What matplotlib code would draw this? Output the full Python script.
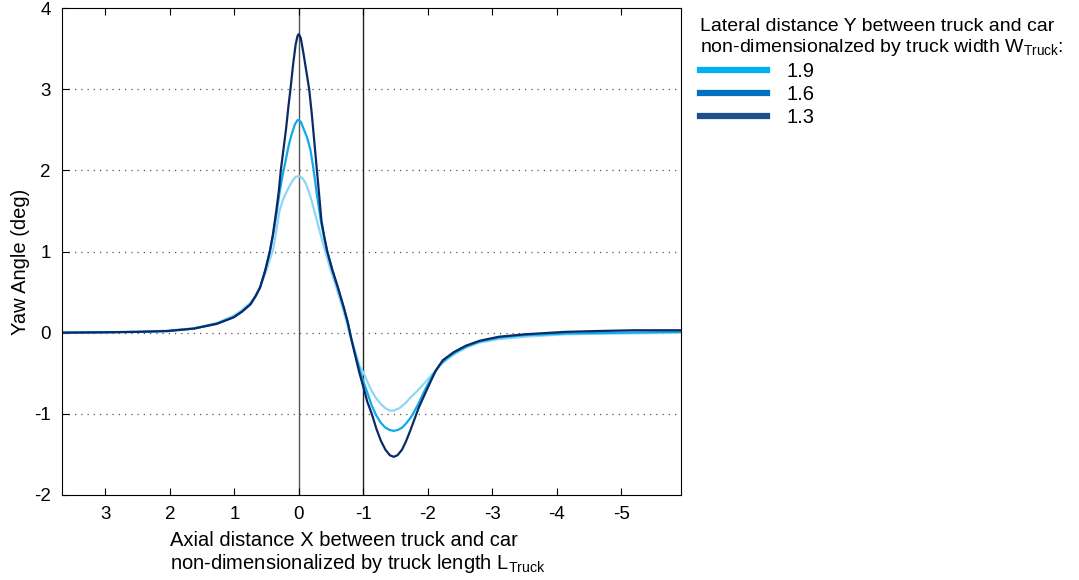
import numpy as np
import matplotlib
matplotlib.use("Agg")
from matplotlib import pyplot as plt
from matplotlib.lines import Line2D

plt.rcParams['font.family'] = ['Liberation Sans', 'DejaVu Sans']
plt.rcParams['mathtext.fontset'] = 'custom'
plt.rcParams['mathtext.rm'] = 'Liberation Sans'
plt.rcParams['axes.unicode_minus'] = False

# Y = 1.3 (dark)
x13 = [3.7, 3.0, 2.5, 2.04, 1.63, 1.27, 1.01, 0.88, 0.75, 0.67, 0.6, 0.52, 0.45, 0.4, 0.35,
       0.31, 0.28, 0.24, 0.2, 0.16, 0.13, 0.09, 0.05, 0.02, 0.0,
       -0.03, -0.07, -0.11, -0.16, -0.2, -0.24, -0.28, -0.32, -0.35, -0.39, -0.44, -0.52,
       -0.605, -0.7, -0.76, -0.81, -0.87, -0.94, -1.0, -1.06, -1.13, -1.2, -1.27, -1.34,
       -1.41, -1.47, -1.53, -1.6, -1.66, -1.73, -1.79, -1.86, -1.94, -2.02, -2.12, -2.23,
       -2.4, -2.59, -2.8, -3.1, -3.5, -4.13, -4.6, -5.2, -5.92]
y13 = [0.0, 0.005, 0.01, 0.02, 0.05, 0.11, 0.19, 0.26, 0.35, 0.45, 0.56, 0.77, 1.0, 1.22, 1.5,
       1.75, 2.0, 2.25, 2.5, 2.8, 3.0, 3.3, 3.55, 3.66, 3.68,
       3.63, 3.45, 3.25, 3.0, 2.7, 2.35, 2.0, 1.65, 1.38, 1.2, 1.0, 0.77,
       0.56, 0.3, 0.12, -0.07, -0.27, -0.5, -0.67, -0.85, -1.0, -1.18, -1.33, -1.44,
       -1.51, -1.53, -1.51, -1.44, -1.34, -1.2, -1.07, -0.92, -0.78, -0.64, -0.47, -0.34,
       -0.24, -0.16, -0.1, -0.05, -0.02, 0.01, 0.02, 0.03, 0.03]

# Y = 1.6 (middle)
x16 = [3.7, 3.0, 2.5, 2.04, 1.63, 1.27, 1.01, 0.88, 0.75, 0.67, 0.6, 0.52, 0.45, 0.4, 0.35,
       0.3, 0.25, 0.21, 0.16, 0.11, 0.06, 0.02, 0.0,
       -0.03, -0.08, -0.13, -0.18, -0.23, -0.28, -0.34, -0.39, -0.44, -0.52,
       -0.6, -0.7, -0.76, -0.81, -0.87, -0.94, -1.0, -1.07, -1.13, -1.2, -1.27, -1.34,
       -1.41, -1.47, -1.53, -1.6, -1.66, -1.72, -1.77, -1.85, -1.97, -2.08, -2.18, -2.3,
       -2.45, -2.6, -2.8, -3.1, -3.5, -4.13, -5.0, -5.92]
y16 = [0.0, 0.005, 0.01, 0.02, 0.05, 0.11, 0.19, 0.26, 0.35, 0.45, 0.56, 0.77, 1.0, 1.2, 1.45,
       1.72, 1.95, 2.1, 2.3, 2.45, 2.57, 2.62, 2.62,
       2.6, 2.5, 2.4, 2.25, 2.0, 1.7, 1.38, 1.18, 1.0, 0.77,
       0.56, 0.3, 0.12, -0.06, -0.25, -0.45, -0.6, -0.76, -0.9, -1.02, -1.11, -1.17,
       -1.2, -1.21, -1.2, -1.17, -1.12, -1.06, -1.0, -0.88, -0.68, -0.52, -0.4, -0.31,
       -0.23, -0.17, -0.11, -0.06, -0.03, -0.01, 0.0, 0.01]

# Y = 1.9 (light)
x19 = [3.7, 3.0, 2.5, 2.04, 1.63, 1.27, 1.01, 0.88, 0.75, 0.67, 0.6, 0.52, 0.45, 0.4, 0.35,
       0.3, 0.25, 0.2, 0.15, 0.1, 0.05, 0.0,
       -0.05, -0.1, -0.15, -0.2, -0.24, -0.28, -0.34, -0.41, -0.49, -0.58, -0.68, -0.73,
       -0.78, -0.86, -0.94, -1.0, -1.07, -1.13, -1.2, -1.27, -1.34, -1.41, -1.47, -1.56,
       -1.65, -1.73, -1.82, -1.95, -2.07, -2.23, -2.4, -2.6, -2.8, -3.1, -3.5, -4.13,
       -5.0, -5.92]
y19 = [0.0, 0.005, 0.012, 0.025, 0.055, 0.12, 0.21, 0.28, 0.37, 0.46, 0.56, 0.73, 0.9, 1.02, 1.25,
       1.5, 1.63, 1.72, 1.8, 1.87, 1.92, 1.93,
       1.91, 1.85, 1.75, 1.62, 1.5, 1.38, 1.2, 1.0, 0.78, 0.56, 0.3, 0.16,
       0.0, -0.2, -0.41, -0.49, -0.62, -0.72, -0.81, -0.88, -0.93, -0.96, -0.96, -0.93,
       -0.87, -0.8, -0.73, -0.62, -0.51, -0.37, -0.27, -0.18, -0.12, -0.08, -0.05, -0.02,
       -0.01, 0.0]

labels = ["1.9", "1.6", "1.3"]
legend_colors = ["#00b0f0", "#0070c0", "#1f4e8c"]

fig = plt.figure(figsize=(10.79, 5.80), dpi=100)
ax = fig.add_axes([0.0575, 0.1466, 0.5735, 0.8394])

ax.plot(x19, y19, c="#8ed6f6", lw=1.6)
ax.plot(x16, y16, c="#10aaea", lw=1.6)
ax.plot(x13, y13, c="#0b2a66", lw=1.6)

ax.axvline(0, c="#555555", lw=1, zorder=1)
ax.axvline(-1, c="#222222", lw=1, zorder=1)
for yy in [-1, 0, 1, 2, 3]:
    ax.axhline(yy, c="#555555", lw=0.9, ls=(0, (1, 4)), zorder=0)

ax.set_xlim(3.67, -5.92)
ax.set_ylim(-2, 4)
ax.set_xticks([3, 2, 1, 0, -1, -2, -3, -4, -5])
ax.set_yticks([-2, -1, 0, 1, 2, 3, 4])
ax.tick_params(direction="in", top=True, right=False, length=5, pad=8, labelsize=13.5)

ax.set_xlabel("Axial distance X between truck and car\nnon-dimensionalized by truck length L$_{\\mathrm{Truck}}$",
              multialignment="left", fontsize=14.5, linespacing=1.1)
ax.xaxis.set_label_coords(0.478, -0.075)
ax.set_ylabel("Yaw Angle (deg)", fontsize=14.5)
ax.yaxis.set_label_coords(-0.052, 0.478)

handles = [Line2D([], [], c=c, lw=4.5) for c in legend_colors]
leg = fig.legend(handles, labels, loc="upper left", bbox_to_anchor=(0.632, 1.0),
                 title="Lateral distance Y between truck and car\nnon-dimensionalzed by truck width W$_{\\mathrm{Truck}}$:",
                 frameon=False, fontsize=14.5, title_fontsize=14, handlelength=3.3,
                 handletextpad=1.0, labelspacing=0.2, alignment="left")
leg.get_title().set_linespacing(1.1)

fig.savefig("out.png", dpi=100)
